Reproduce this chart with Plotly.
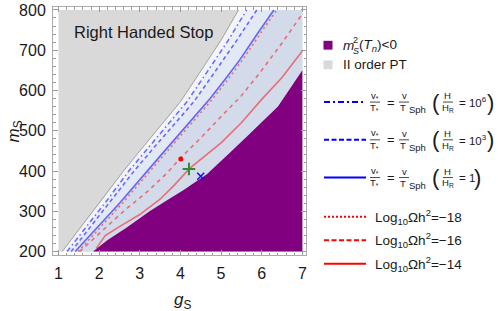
import plotly.graph_objects as go

# ---------------- data (g_S, m_S) ----------------
gray_g = [1.09, 2.1, 2.6, 3.1, 3.6, 4.0, 4.5, 5.0, 5.43]
gray_m = [200, 332, 400, 462, 522, 572, 648, 725, 800]

dashdot_g = [1.21, 2.23, 2.73, 3.24, 3.75, 4.16, 4.67, 5.18, 5.63]
dashdot_m = [200, 332, 400, 462, 522, 572, 648, 725, 800]

dashed_g = [1.31, 2.34, 2.86, 3.38, 3.91, 4.33, 4.86, 5.39, 5.88]
dashed_m = [200, 332, 400, 462, 522, 572, 648, 725, 800]

bsolid_g = [1.41, 2.5, 3.5, 4.1, 4.73, 5.1, 5.46, 5.88, 6.30]
bsolid_m = [200, 320, 437, 508, 580, 628, 676, 739, 800]

rdot_g = [1.48, 2.57, 3.57, 4.17, 4.80, 5.17, 5.53, 5.95, 6.37]
rdot_m = [200, 320, 437, 508, 580, 628, 676, 739, 800]

rdash_g = [1.52, 2.0, 2.6, 3.2, 3.7, 4.0, 4.5, 5.0, 5.5, 6.0, 6.5, 7.0]
rdash_m = [200, 245, 300, 350, 398, 432, 482, 535, 587, 650, 718, 790]

rsolid_g = [1.93, 2.15, 2.5, 3.0, 3.5, 3.85, 4.22, 4.6, 5.0, 5.5, 6.0, 6.5, 7.0]
rsolid_m = [208, 240, 262, 292, 330, 365, 406, 437, 470, 520, 578, 632, 698]

purple_g = [1.85, 2.2, 2.68, 3.25, 3.70, 4.07, 4.65, 5.04, 5.21, 5.70, 6.1, 6.4, 7.0]
purple_m = [200, 228, 260, 301, 329, 352, 392, 428, 445, 492, 530, 560, 650]

pt_red = (4.01, 430)
pt_green = (4.21, 405)
pt_blue = (4.50, 387)

x_ticks = [1, 2, 3, 4, 5, 6, 7]
y_ticks = [200, 300, 400, 500, 600, 700, 800]

# ---------------- layout geometry ----------------
W, H = 498, 311
L, R, T, B = 53, 306, 2, 255  # plot frame in pixels
FONT = "Liberation Sans, Arial, sans-serif"


def px(x):
    return (x - L) / (R - L)


def py(y):
    return (B - y) / (B - T)


fig = go.Figure()


def right_region(gs, ms, color):
    xs = list(gs) + [7, 7]
    ys = list(ms) + [800, 200]
    fig.add_trace(go.Scatter(x=xs, y=ys, fill="toself", fillcolor=color,
                             line=dict(width=0), mode="lines",
                             hoverinfo="skip", showlegend=False))


right_region(gray_g, gray_m, "#f3f5fb")
right_region(dashdot_g, dashdot_m, "#ebeff8")
right_region(dashed_g, dashed_m, "#e3e9f4")
right_region(bsolid_g, bsolid_m, "#d3dbeb")

# gray region (second order PT)
fig.add_trace(go.Scatter(x=[1] + gray_g + [1], y=[200] + gray_m + [800],
                         fill="toself", fillcolor="#d9d9d9",
                         line=dict(width=0), mode="lines",
                         hoverinfo="skip", showlegend=False))
fig.add_trace(go.Scatter(x=gray_g, y=gray_m, mode="lines",
                         line=dict(color="#8f8f8f", width=0.8),
                         hoverinfo="skip", showlegend=False))

# purple region
fig.add_trace(go.Scatter(x=purple_g + [7], y=purple_m + [200],
                         fill="toself", fillcolor="#800080",
                         line=dict(width=0), mode="lines",
                         hoverinfo="skip", showlegend=False))

BLUE = "rgba(0,0,255,0.55)"
RED = "rgba(255,0,0,0.5)"


def curve(gs, ms, color, dash):
    fig.add_trace(go.Scatter(x=gs, y=ms, mode="lines",
                             line=dict(color=color, width=1.6, dash=dash),
                             hoverinfo="skip", showlegend=False))


curve(dashdot_g, dashdot_m, BLUE, "5px,3px,1.5px,3px")
curve(dashed_g, dashed_m, BLUE, "4px,3px")
curve(bsolid_g, bsolid_m, BLUE, "solid")
curve(rdot_g, rdot_m, RED, "2px,3px")
curve(rdash_g, rdash_m, RED, "4px,4px")
curve(rsolid_g, rsolid_m, RED, "solid")

fig.add_trace(go.Scatter(x=[pt_red[0]], y=[pt_red[1]], mode="markers",
                         marker=dict(color="red", size=5), showlegend=False))
fig.add_trace(go.Scatter(x=[pt_green[0]], y=[pt_green[1]], mode="markers",
                         marker=dict(symbol="cross-thin", size=9,
                                     line=dict(color="#2e8b2e", width=2)),
                         showlegend=False))
fig.add_trace(go.Scatter(x=[pt_blue[0]], y=[pt_blue[1]], mode="markers",
                         marker=dict(symbol="x-thin", size=7,
                                     line=dict(color="#1010ff", width=1.5)),
                         showlegend=False))

ann = []
shapes = []


def text(x, y, s, size=13.5, xanchor="left", color="#1a1a1a", angle=0):
    ann.append(dict(x=px(x), y=py(y), xref="paper", yref="paper", text=s,
                    showarrow=False, xanchor=xanchor, yanchor="middle",
                    textangle=angle,
                    font=dict(family=FONT, size=size, color=color)))


def hline(x0, x1, y, color, width=1, dash="solid"):
    shapes.append(dict(type="line", xref="paper", yref="paper",
                       x0=px(x0), x1=px(x1), y0=py(y), y1=py(y),
                       line=dict(color=color, width=width, dash=dash)))


def square(cx, cy, color, s=9):
    shapes.append(dict(type="rect", xref="paper", yref="paper",
                       x0=px(cx - s / 2), x1=px(cx + s / 2),
                       y0=py(cy + s / 2), y1=py(cy - s / 2),
                       fillcolor=color, line=dict(width=0)))


# inside label
text(72, 27, "Right Handed Stop", size=16.5)

# axis titles
text(15, 129, "<i>m</i><sub>S</sub>", size=17, xanchor="center", angle=-90)
text(182, 302, "<i>g</i><sub>S</sub>", size=17, xanchor="center")

# ---------------- legend ----------------
square(328, 41, "#800080")
text(341, 41, "<i>m</i>", size=13.5)
text(350.5, 35.5, "2", size=9)
text(350.5, 46.5, "<i>S</i>", size=9)
text(357, 41, "(<i>T</i><sub><i>n</i></sub>)<0", size=13.5)

square(328, 61, "#d9d9d9")
text(341, 61, "II order PT", size=13.5)


def formula(yc, power):
    fs = 9.5
    text(374.5, yc - 6.5, "v<sub>*</sub>", size=fs, xanchor="center")
    hline(370, 380, yc, "#1a1a1a", 0.8)
    text(374.5, yc + 6, "T<sub>*</sub>", size=fs, xanchor="center")
    text(391, yc, "=", size=13, xanchor="center")
    text(404, yc - 6.5, "v", size=fs, xanchor="center")
    hline(399, 409, yc, "#1a1a1a", 0.8)
    text(403, yc + 6, "T", size=fs, xanchor="center")
    text(406.5, yc + 8, "Sph", size=fs)
    text(436, yc, "(", size=22, xanchor="center")
    text(447.5, yc - 6.5, "H", size=fs, xanchor="center")
    hline(443, 453, yc, "#1a1a1a", 0.8)
    text(448, yc + 6, "H<sub>R</sub>", size=fs, xanchor="center")
    if power is None:
        text(457, yc, "= 1", size=11.5)
        text(477, yc, ")", size=22, xanchor="center")
    else:
        text(456.5, yc, "= 10<sup>%d</sup>" % power, size=11.5)
        text(490, yc, ")", size=22, xanchor="center")


hline(324, 366, 99, "#0000ff", 2, "6px,3px,2px,3px")
formula(99, 6)
hline(324, 366, 137.5, "#0000ff", 2, "5px,2.5px")
formula(137.5, 3)
hline(324, 366, 176, "#0000ff", 2)
formula(176, None)

hline(324, 366, 216, "#ff0000", 2, "2px,2px")
text(373, 216, "Log<sub>10</sub>Ωh<sup>2</sup>=−18")
hline(324, 366, 240, "#ff0000", 2, "5px,2.5px")
text(373, 240, "Log<sub>10</sub>Ωh<sup>2</sup>=−16")
hline(324, 366, 264, "#ff0000", 2)
text(373, 264, "Log<sub>10</sub>Ωh<sup>2</sup>=−14")

axis_common = dict(ticks="inside", ticklen=5, tickcolor="#9a9a9a",
                   showline=True, linecolor="#ababab", linewidth=1,
                   mirror="ticks", showgrid=False, zeroline=False,
                   ticklabeloverflow="allow",
                   tickfont=dict(family=FONT, size=16, color="#1a1a1a"))

fig.update_layout(
    width=W, height=H,
    margin=dict(l=L, r=W - R, t=T, b=H - B, pad=0),
    paper_bgcolor="white", plot_bgcolor="white",
    showlegend=False,
    xaxis=dict(range=[0.865, 7.09], tickvals=x_ticks,
               minor=dict(ticks="inside", ticklen=2.5, dtick=0.2,
                          tickcolor="#9a9a9a", showgrid=False),
               ticklabelstandoff=4, **axis_common),
    yaxis=dict(range=[191.5, 807.3], tickvals=y_ticks,
               minor=dict(ticks="inside", ticklen=2.5, dtick=20,
                          tickcolor="#9a9a9a", showgrid=False),
               ticklabelstandoff=3, **axis_common),
    annotations=ann,
    shapes=shapes,
)

fig.write_html("out.html",
               config={"displayModeBar": False, "staticPlot": True},
               post_script="document.body.style.margin='0';"
                           "document.body.style.padding='0';"
                           "document.body.style.overflow='hidden';")
